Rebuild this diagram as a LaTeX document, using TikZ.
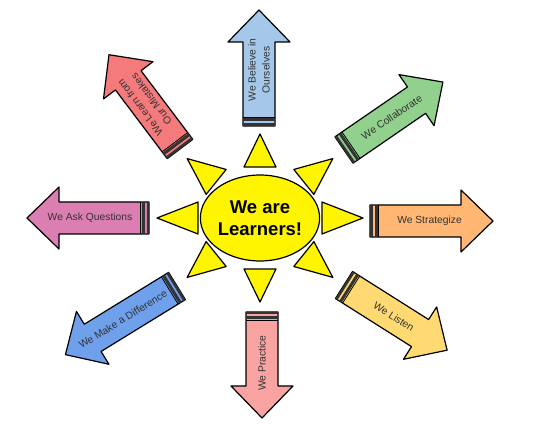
\documentclass[tikz,border=0pt]{standalone}
\usepackage{fontspec}
\setmainfont{Liberation Sans}
\usetikzlibrary{calc,shapes.geometric}

\definecolor{sunyellow}{HTML}{FFF500}
\definecolor{believeblue}{HTML}{A4C7EA}
\definecolor{mistakered}{HTML}{F47A7C}
\definecolor{collabgreen}{HTML}{92D18D}
\definecolor{strategyorange}{HTML}{FFB773}
\definecolor{listenyellow}{HTML}{FFDA72}
\definecolor{practicepink}{HTML}{F9A3A3}
\definecolor{differenceblue}{HTML}{6FA0EC}
\definecolor{questionpink}{HTML}{DB7EB2}
\definecolor{banddark}{HTML}{333333}
\definecolor{labelgray}{HTML}{333333}

\begin{document}
\begin{tikzpicture}[x=1pt,y=1pt,
		outline/.style={draw=black, line width=1.2pt, line join=round},
		ray/.style={outline, fill=sunyellow},
		crayon/.style={outline, fill=#1},
		arrowtext/.style={text=labelgray, align=center, inner sep=0pt, font=\fontsize{10.3}{14}\selectfont},
		suntext/.style={ellipse, outline, fill=sunyellow, minimum width=106pt, minimum height=86pt, align=center, inner sep=0pt, font=\fontsize{18.5}{21.5}\selectfont\bfseries}
	]
	\useasboundingbox[fill=white] (0,0) rectangle (550,439);
	% Sun
	\node[suntext] (sun) at (260,221) {We are\\Learners!};
	\foreach \ang in {0,45,...,315} {
		\coordinate (apex) at ($(sun.center)+({103*cos(\ang)},{84*sin(\ang)})$);
		\coordinate (base) at ($(sun.center)+({62*cos(\ang)},{51*sin(\ang)})$);
		\draw[ray] (apex) -- ($(base)!16pt!90:(apex)$) -- ($(base)!16pt!-90:(apex)$) -- cycle;
	}
	% Crayon arrows
	\foreach \px/\py/\ang/\arrlen/\arrcol/\arrtext/\textrot/\arrname in {
		259/313/90/116/believeblue/{We Believe in\\Ourselves}/90/believe,
		180/290/127/118/mistakered/{We Learn from\\Our Mistakes}/127/mistakes,
		344/289/34.5/120/collabgreen/{We Collaborate}/34.5/collaborate,
		370/218/0/123/strategyorange/{We Strategize}/0/strategize,
		344/154/-32.3/122/listenyellow/{We Listen}/-32.3/listen,
		262/127/-90/106/practicepink/{We Practice}/90/practice,
		177/153/211.6/131/differenceblue/{We Make a Difference}/31.6/difference,
		149/221/180/122/questionpink/{We Ask Questions}/0/questions} {
		\begin{scope}[shift={(\px,\py)}, rotate=\ang]
			\draw[crayon=\arrcol] (0,16) -- ({\arrlen-32},16) -- ({\arrlen-32},31) -- (\arrlen,0)
				-- ({\arrlen-32},-31) -- ({\arrlen-32},-16) -- (0,-16) -- cycle;
			\fill[banddark] (0,-16) rectangle (2.5,16);
			\fill[banddark] (4.5,-16) rectangle (7.5,16);
			\draw[line width=0.8pt] (8.5,-16) -- (8.5,16);
			\node[arrowtext, rotate=\textrot] (\arrname) at ({\arrlen/2-2},0) {\arrtext};
		\end{scope}
	}
\end{tikzpicture}
\end{document}
